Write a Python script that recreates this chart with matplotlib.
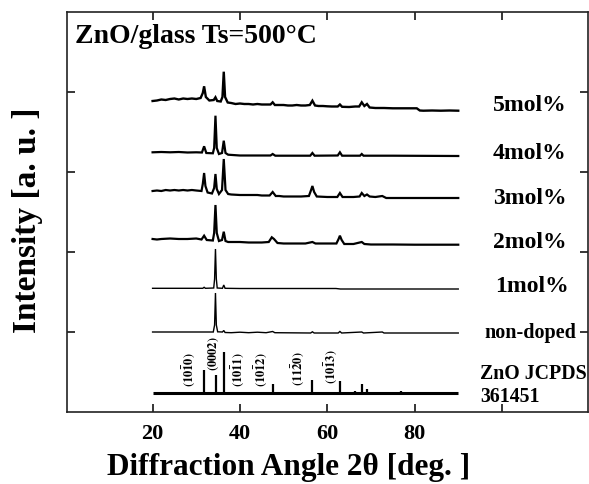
import matplotlib
matplotlib.use("Agg")
import matplotlib.pyplot as plt

plt.rcParams['font.family'] = ['Liberation Serif', 'DejaVu Serif']
plt.rcParams['font.weight'] = 'bold'
plt.rcParams['mathtext.fontset'] = 'stix'

# ---- XRD patterns (2theta in deg, intensity in a.u. above each baseline) ----
samples = ['5mol%', '4mol%', '3mol%', '2mol%', '1mol%', 'non-doped']
offsets = [3.7625, 3.2, 2.675, 2.0875, 1.5375, 0.9875]
AU = 1 / 80.0  # a.u. -> axis units

tt_5 = [20, 21, 22, 23, 24, 25, 26, 27, 28, 29, 30, 31.0, 31.5, 31.8, 32.2, 33.0,
        34.0, 34.4, 34.8, 35.6, 36.0, 36.3, 36.6, 37.2, 38, 39, 40, 41, 42, 43, 44,
        45, 46, 47.0, 47.5, 48.0, 49, 50, 51, 52, 53, 54, 55, 56.0, 56.6, 57.2, 58,
        59, 60, 61, 62.4, 62.9, 63.4, 65, 66.4, 67.3, 67.9, 68.5, 69.1, 69.7, 71,
        73, 75, 77, 79, 80.5, 81.2, 82, 84, 86, 88, 90]
I_5 = [10, 10.5, 11.5, 11, 12, 12.5, 11.5, 12.5, 12, 12.5, 12, 13, 18, 24.7, 14, 10.5,
       11, 13.7, 10, 9.5, 14, 39.3, 14, 8.5, 8, 7, 7.5, 7, 7, 6.5, 7,
       6.5, 6.5, 6.5, 8.7, 6, 6, 6, 5.5, 5.5, 6, 5.5, 5.5, 6, 10.3, 5.5, 5,
       5, 4.7, 4.5, 4.5, 6.5, 4.2, 4, 4.5, 4.5, 8.7, 5, 7, 3.5, 3,
       3, 2.7, 2.7, 2.7, 2.7, 0.5, 0.3, 0.5, 0.3, 0.5, 0.3]

tt_4 = [20, 22, 24, 26, 28, 30, 31.3, 31.8, 32.3, 33.8, 34.1, 34.4, 34.7, 35.2, 35.9,
        36.3, 36.7, 37.3, 40, 44, 47.0, 47.5, 48.1, 52, 56.1, 56.6, 57.1, 62.4, 62.9,
        63.4, 67.5, 67.9, 68.3, 75, 90]
I_4 = [3.7, 4, 3.7, 4, 3.5, 3.7, 3.5, 9.7, 3, 2.7, 8, 40.3, 8, 2, 3,
       15.3, 3, 1.3, 0.5, 0.5, 0.5, 2, 0.3, 0.3, 0.3, 3, 0.3, 0.5, 3.7,
       0.3, 0.3, 2, 0.3, 0.3, 0]

tt_3 = [20, 21, 22, 23, 24, 25, 26, 27, 28, 29, 30, 31.2, 31.5, 31.8, 32.1, 32.6,
        33.6, 34.1, 34.4, 34.7, 35.2, 35.9, 36.3, 36.7, 37.3, 38, 40, 42, 44, 45,
        46.8, 47.5, 48.2, 49, 50, 52, 54, 55.8, 56.3, 56.6, 57.0, 57.6, 60, 62.3,
        62.9, 63.5, 66, 67.4, 67.9, 68.5, 69.1, 69.7, 71, 72.6, 73.5, 80, 90]
I_3 = [7, 7.5, 7, 8, 7.5, 8, 7.5, 8, 7.5, 8, 7.5, 7, 14, 25, 12, 5.5,
       4.5, 10, 24, 9, 4, 8, 39, 8, 4, 3.5, 3, 3, 3, 2.5,
       2.5, 6, 2, 2, 1.5, 1.5, 1.5, 2, 8, 12, 6, 1.5, 1, 1,
       5, 1, 1, 1.5, 5, 2, 3.5, 1.5, 1, 2, 0, 0, 0]

tt_2 = [20, 21, 22, 24, 26, 28, 30, 31.2, 31.8, 32.4, 33.8, 34.1, 34.4, 34.7, 35.2,
        35.9, 36.3, 36.7, 37.3, 40, 42, 45, 46.6, 47.3, 47.8, 48.6, 50, 53, 55,
        56.6, 57.3, 60, 62.1, 62.6, 62.9, 63.3, 63.9, 66, 67.9, 68.5, 70, 75, 80,
        85, 90]
I_2 = [6, 5.5, 6, 6.5, 6, 6, 6.5, 5.5, 9.3, 5, 4.5, 12, 40, 12, 4,
       5, 13.3, 4, 3, 3, 2.5, 2.5, 3, 7.7, 6, 2, 1.5, 1.5, 1.5,
       3, 1.5, 1.5, 1.5, 6, 9.3, 5, 1, 1, 3, 1, 0.5, 0.5, 0.3,
       0.3, 0.3]

tt_1 = [20, 30, 31.5, 31.8, 32.1, 34.0, 34.2, 34.4, 34.6, 34.8, 36.0, 36.3, 36.6,
        40, 50, 62, 63, 70, 80, 90]
I_1 = [0.7, 0.7, 0.7, 1.7, 0.7, 1, 10, 40, 10, 1, 0.7, 4, 0.7,
       0.5, 0.5, 0.5, 0, 0, 0, 0]

tt_0 = [20, 30, 33.9, 34.2, 34.4, 34.6, 34.9, 36.0, 36.3, 36.6, 38, 40, 42, 44, 46,
        47.5, 48, 56.2, 56.6, 57, 62.5, 62.9, 63.3, 67.9, 68.3, 72.6, 73, 90]
I_0 = [1, 1, 1, 8, 40, 8, 1.2, 1, 2.5, 0.5, 0.3, 0.8, 0.3, 0.8, 0.3,
       1.5, 0.3, 0, 1.2, 0, 0, 1.5, 0, 1, 0, 1, 0, 0]

patterns = [(tt_5, I_5), (tt_4, I_4), (tt_3, I_3), (tt_2, I_2), (tt_1, I_1), (tt_0, I_0)]
line_widths = [1.7, 1.6, 1.6, 1.6, 1.0, 1.0]

# ---- ZnO reference pattern (JCPDS 36-1451) ----
ref_offset = 0.2375
ref_range = [20, 90]
ref_tt = [31.77, 34.42, 36.25, 47.54, 56.60, 62.86, 66.38, 67.96, 69.10, 72.56, 76.95]
ref_I = [57, 44, 100, 23, 32, 29, 4, 23, 11, 2, 4]
REF_SCALE = 0.51 / 100

hkl_text = [r'$\mathbf{(10\bar{1}0)}$', r'$\mathbf{(0002)}$', r'$\mathbf{(10\bar{1}1)}$',
            r'$\mathbf{(10\bar{1}2)}$', r'$\mathbf{(11\bar{2}0)}$', r'$\mathbf{(10\bar{1}3)}$']
hkl_x = [28.2, 34.0, 39.4, 44.7, 53.2, 60.7]
hkl_y = [0.54, 0.74, 0.54, 0.54, 0.56, 0.58]

fig = plt.figure(figsize=(5.89, 4.85), dpi=100)
ax = fig.add_axes([67 / 589, 72 / 485, 520.5 / 589, 400 / 485])

for (tt, inten), off, lw in zip(patterns, offsets, line_widths):
    ax.plot(tt, [off + v * AU for v in inten], color='black', lw=lw,
            solid_joinstyle='miter')

ax.plot(ref_range, [ref_offset, ref_offset], color='black', lw=2.2, solid_capstyle='butt')
ax.vlines(ref_tt, ref_offset, [ref_offset + v * REF_SCALE for v in ref_I],
          color='black', lw=1.6)
for t, x, y in zip(hkl_text, hkl_x, hkl_y):
    ax.text(x, y, t, rotation=90, ha='center', va='center', fontsize=9)

# sample labels on the right
lab_x = [106.4, 106.4, 106.4, 106.4, 106.9]
lab_y = [3.84, 3.24, 2.675, 2.125, 1.575]
for name, x, y in zip(samples[:5], lab_x, lab_y):
    ax.text(x, y, name, ha='center', va='center', fontsize=17, fontweight='bold')
ax.text(106.4, 1.0, samples[5], ha='center', va='center', fontsize=14.5, fontweight='bold')
ax.text(95.0, 0.4875, 'ZnO JCPDS', ha='left', va='center', fontsize=14.3, fontweight='bold')
ax.text(95.0, 0.20, '361451', ha='left', va='center', fontsize=14.3, fontweight='bold')

ax.text(0.0154, 0.925, 'ZnO/glass Ts=500\u00b0C', transform=ax.transAxes,
        ha='left', va='baseline', fontsize=20, fontweight='bold')

ax.set_xlim(0.4, 119.6)
ax.set_ylim(0, 5)
ax.set_xticks([20, 40, 60, 80, 100])
ax.set_xticklabels(['20', '40', '60', '80', ''])
ax.set_yticks([1, 2, 3, 4])
ax.set_yticklabels([])
ax.tick_params(direction='in', length=6, width=1.1, top=True, right=True,
               labelsize=16, pad=8)
for lbl in ax.get_xticklabels():
    lbl.set_fontweight('bold')
for sp in ax.spines.values():
    sp.set_linewidth(1.2)
    sp.set_color('#222222')

ax.set_xlabel('Diffraction Angle 2\u03b8 [deg. ]', fontsize=22.5, fontweight='bold')
ax.xaxis.set_label_coords(0.4265, -0.1)
ax.set_ylabel('Intensity [a. u. ]', fontsize=24, fontweight='bold')
ax.yaxis.set_label_coords(-0.046, 0.4825)

fig.savefig('out.png', dpi=100)
